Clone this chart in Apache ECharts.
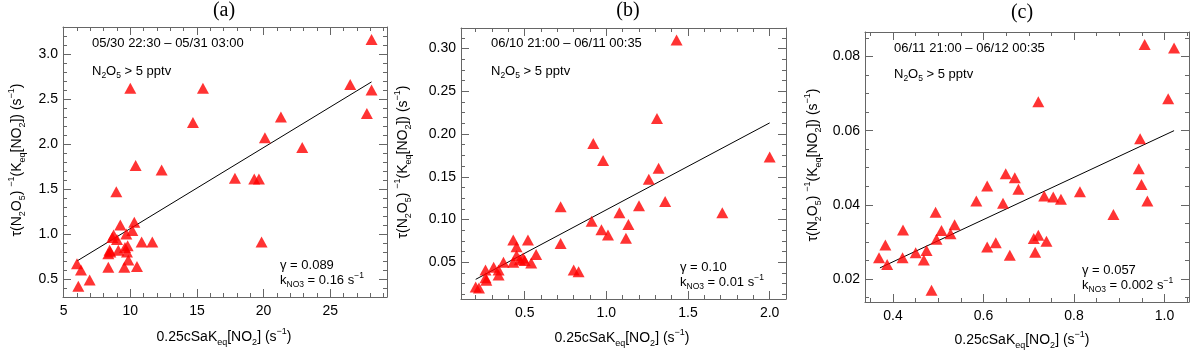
<!DOCTYPE html>
<html>
<head>
<meta charset="UTF-8">
<title>N2O5 uptake scatter</title>
<script src="https://cdn.jsdelivr.net/npm/echarts@6/dist/echarts.min.js"></script>
</head>
<body style="margin:0; background:#fff;">
<div id="chart" style="width:1192px; height:354px;"></div>
<script>
    // measured points [x, y] for each panel
    const pointsA = [
        [6.0, 0.67], [6.3, 0.60], [6.1, 0.42], [6.95, 0.49],
        [8.35, 0.63], [8.35, 0.78], [8.45, 0.82], [8.5, 0.80], [8.65, 0.96], [8.75, 0.99],
        [8.95, 1.47], [9.0, 0.94], [9.1, 0.82], [9.25, 1.10], [9.55, 0.63], [9.6, 0.85],
        [9.7, 1.00], [9.75, 0.80], [9.8, 0.87], [9.85, 0.71], [10.0, 2.62], [10.15, 1.04],
        [10.3, 1.13], [10.4, 1.76], [10.5, 0.64], [10.85, 0.91], [11.65, 0.91], [12.35, 1.71],
        [14.7, 2.24], [15.45, 2.62], [17.85, 1.62], [19.3, 1.61], [19.65, 1.61], [19.85, 0.91],
        [20.1, 2.07], [21.3, 2.30], [22.9, 1.96], [26.5, 2.66], [27.75, 2.34], [28.1, 2.60],
        [28.1, 3.16]
    ];
    const pointsB = [
        [0.20, 0.021], [0.22, 0.020], [0.26, 0.041], [0.26, 0.032], [0.265, 0.029], [0.31, 0.044],
        [0.34, 0.041], [0.34, 0.035], [0.37, 0.050], [0.43, 0.076], [0.45, 0.068], [0.43, 0.050],
        [0.45, 0.058], [0.47, 0.053], [0.49, 0.055], [0.50, 0.052], [0.52, 0.076], [0.54, 0.049],
        [0.57, 0.059], [0.72, 0.115], [0.72, 0.072], [0.80, 0.041], [0.83, 0.039], [0.91, 0.098],
        [0.92, 0.189], [0.97, 0.088], [0.98, 0.169], [1.01, 0.082], [1.08, 0.108], [1.12, 0.078],
        [1.135, 0.094], [1.20, 0.116], [1.26, 0.147], [1.31, 0.218], [1.32, 0.160], [1.36, 0.121],
        [1.43, 0.310], [1.71, 0.108], [2.0, 0.173]
    ];
    const pointsC = [
        [0.369, 0.0257], [0.383, 0.0292], [0.387, 0.0239], [0.422, 0.0332], [0.421, 0.0257],
        [0.450, 0.0271], [0.468, 0.0251], [0.474, 0.0277], [0.485, 0.0170], [0.494, 0.0380],
        [0.496, 0.0307], [0.507, 0.0331], [0.527, 0.0322], [0.536, 0.0346], [0.584, 0.0410],
        [0.608, 0.0451], [0.608, 0.0286], [0.627, 0.0298], [0.649, 0.0484], [0.643, 0.0404],
        [0.669, 0.0473], [0.677, 0.0442], [0.658, 0.0264], [0.721, 0.0678], [0.711, 0.0309],
        [0.721, 0.0318], [0.739, 0.0302], [0.714, 0.0272], [0.734, 0.0424], [0.754, 0.0421],
        [0.771, 0.0415], [0.813, 0.0435], [0.887, 0.0374], [0.943, 0.0497], [0.946, 0.0578],
        [0.949, 0.0455], [0.962, 0.0410], [0.956, 0.0832], [1.008, 0.0686], [1.021, 0.0823]
    ];

    // fitted lines (end points)
    const fitA = [[6.0, 0.70], [28.1, 2.69]];
    const fitB = [[0.20, 0.030], [2.0, 0.213]];
    const fitC = [[0.371, 0.023], [1.021, 0.060]];

    // tick labels
    const xTicksA = [5, 10, 15, 20, 25];
    const yTicksA = [0.5, 1.0, 1.5, 2.0, 2.5, 3.0];
    const xTicksB = [0.5, 1.0, 1.5, 2.0];
    const yTicksB = [0.05, 0.10, 0.15, 0.20, 0.25, 0.30];
    const xTicksC = [0.4, 0.6, 0.8, 1.0];
    const yTicksC = [0.02, 0.04, 0.06, 0.08];

    // text in each panel
    const panelTitles = ['(a)', '(b)', '(c)'];
    const periods = ['05/30 22:30 \u2013 05/31 03:00', '06/10 21:00 \u2013 06/11 00:35', '06/11 21:00 \u2013 06/12 00:35'];
    const gammas = ['0.089', '0.10', '0.057'];
    const kValues = ['0.16', '0.01', '0.002'];

    const FONT = '"Liberation Sans", Arial, Helvetica, sans-serif';
    const AXIS_COLOR = '#666';

    function steps(from, to, step) {
        const out = [];
        for (let v = from; v <= to + step * 1e-6; v += step) out.push(+v.toFixed(6));
        return out;
    }

    const panels = [
        {
            points: pointsA, fit: fitA, xTicks: xTicksA, yTicks: yTicksA,
            xMinor: steps(5, 29, 1), yMinor: steps(0.3, 3.2, 0.1),
            xRange: [4.95, 29.26], yRange: [0.3, 3.3], xDigits: 0, yDigits: 1,
            grid: { left: 63, top: 27, width: 324, height: 270 },
            title: [224, 11], period: [92, 43], cond: [92, 71], stats: [280, 265],
            yName: [17, 160], xName: [224, 337]
        },
        {
            points: pointsB, fit: fitB, xTicks: xTicksB, yTicks: yTicksB,
            xMinor: steps(0.2, 2.1, 0.1), yMinor: steps(0.0125, 0.3125, 0.0125),
            xRange: [0.11, 2.1], yRange: [0.007, 0.324], xDigits: 1, yDigits: 2,
            grid: { left: 461, top: 28, width: 325, height: 271 },
            title: [628, 11], period: [491, 43], cond: [491, 71], stats: [680, 267],
            yName: [403, 162], xName: [622, 338]
        },
        {
            points: pointsC, fit: fitC, xTicks: xTicksC, yTicks: yTicksC,
            xMinor: steps(0.35, 1.05, 0.05), yMinor: steps(0.015, 0.085, 0.005),
            xRange: [0.338, 1.054], yRange: [0.0138, 0.0866], xDigits: 1, yDigits: 2,
            grid: { left: 865, top: 32, width: 324, height: 270 },
            title: [1022, 13], period: [894, 48], cond: [894, 74], stats: [1082, 270],
            yName: [813, 165], xName: [1022, 340]
        }
    ];

    const grids = [], xAxes = [], yAxes = [], series = [], graphics = [];

    const rich = {
        n: { fontSize: 14, fontFamily: FONT, color: '#000', lineHeight: 20 },
        s: { fontSize: 13, fontFamily: FONT, color: '#000', lineHeight: 18 },
        sub: { fontSize: 9, fontFamily: FONT, color: '#000', lineHeight: 9, verticalAlign: 'bottom' },
        ssub: { fontSize: 8.5, fontFamily: FONT, color: '#000', lineHeight: 8, verticalAlign: 'bottom' },
        sup: { fontSize: 9, fontFamily: FONT, color: '#000', lineHeight: 12, verticalAlign: 'top' },
        ssup: { fontSize: 8.5, fontFamily: FONT, color: '#000', lineHeight: 11, verticalAlign: 'top' }
    };

    function axisPair(kind, gridIndex, range, positions, ticks, minor, digits) {
        const list = kind === 'x' ? xAxes : yAxes;
        const first = list.length;
        positions.forEach(function (pos, i) {
            list.push({
                type: 'value', gridIndex: gridIndex, position: pos,
                min: range[0], max: range[1],
                axisLine: { show: !minor, onZero: false, lineStyle: { color: AXIS_COLOR, width: 1 } },
                axisTick: {
                    show: true, inside: true, length: minor ? 4 : 8,
                    customValues: ticks, lineStyle: { color: AXIS_COLOR, width: 1 }
                },
                axisLabel: {
                    show: !minor && i === 0, customValues: ticks,
                    margin: kind === 'x' ? 7 : 5,
                    fontSize: 14, fontFamily: FONT, color: '#000',
                    formatter: function (v) { return v.toFixed(digits); }
                },
                splitLine: { show: false }
            });
        });
        return first;
    }

    panels.forEach(function (p, k) {
        const gMajor = grids.length;
        grids.push(Object.assign({ containLabel: false }, p.grid));
        grids.push(Object.assign({ containLabel: false }, p.grid));
        const gMinor = gMajor + 1;

        const xi = axisPair('x', gMajor, p.xRange, ['bottom', 'top'], p.xTicks, false, p.xDigits);
        const yi = axisPair('y', gMajor, p.yRange, ['left', 'right'], p.yTicks, false, p.yDigits);
        axisPair('x', gMinor, p.xRange, ['bottom', 'top'], p.xMinor, true, 0);
        axisPair('y', gMinor, p.yRange, ['left', 'right'], p.yMinor, true, 0);

        series.push({
            type: 'line', xAxisIndex: xi, yAxisIndex: yi, data: p.fit,
            showSymbol: false, symbol: 'none', silent: true, z: 2,
            lineStyle: { color: '#000', width: 1 }
        });
        series.push({
            type: 'scatter', xAxisIndex: xi, yAxisIndex: yi, data: p.points,
            symbol: 'triangle', symbolSize: [12, 11], silent: true, z: 3,
            itemStyle: { color: '#ff0000' }
        });

        graphics.push({
            type: 'text', x: p.title[0], y: p.title[1],
            style: { text: panelTitles[k], font: '20px "Liberation Serif", "Times New Roman", serif', fill: '#000', align: 'center', verticalAlign: 'middle' }
        });
        graphics.push({
            type: 'text', x: p.period[0], y: p.period[1],
            style: { text: '{s|' + periods[k] + '}', rich: rich, align: 'left', verticalAlign: 'middle' }
        });
        graphics.push({
            type: 'text', x: p.cond[0], y: p.cond[1],
            style: { text: '{s|N}{ssub|2}{s|O}{ssub|5}{s| > 5 pptv}', rich: rich, align: 'left', verticalAlign: 'middle' }
        });
        graphics.push({
            type: 'text', x: p.stats[0], y: p.stats[1],
            style: { text: '{s|\u03b3 = ' + gammas[k] + '}', rich: rich, align: 'left', verticalAlign: 'middle' }
        });
        graphics.push({
            type: 'text', x: p.stats[0], y: p.stats[1] + 15,
            style: { text: '{s|k}{ssub|NO3}{s| = ' + kValues[k] + ' s}{ssup|\u22121}', rich: rich, align: 'left', verticalAlign: 'middle' }
        });
        graphics.push({
            type: 'text', x: p.yName[0], y: p.yName[1], rotation: Math.PI / 2,
            style: {
                text: '{n|\u03c4(N}{sub|2}{n|O}{sub|5}{n|) }{sup|\u22121}{n|(K}{sub|eq}{n|[NO}{sub|2}{n|]) (s}{sup|\u22121}{n|)}',
                rich: rich, align: 'center', verticalAlign: 'middle'
            }
        });
        graphics.push({
            type: 'text', x: p.xName[0], y: p.xName[1],
            style: {
                text: '{n|0.25cSaK}{sub|eq}{n|[NO}{sub|2}{n|] (s}{sup|\u22121}{n|)}',
                rich: rich, align: 'center', verticalAlign: 'middle'
            }
        });
    });

    const chart = echarts.init(document.getElementById('chart'));
    chart.setOption({
        animation: false,
        backgroundColor: '#fff',
        grid: grids,
        xAxis: xAxes,
        yAxis: yAxes,
        series: series,
        graphic: graphics
    });
</script>
</body>
</html>
